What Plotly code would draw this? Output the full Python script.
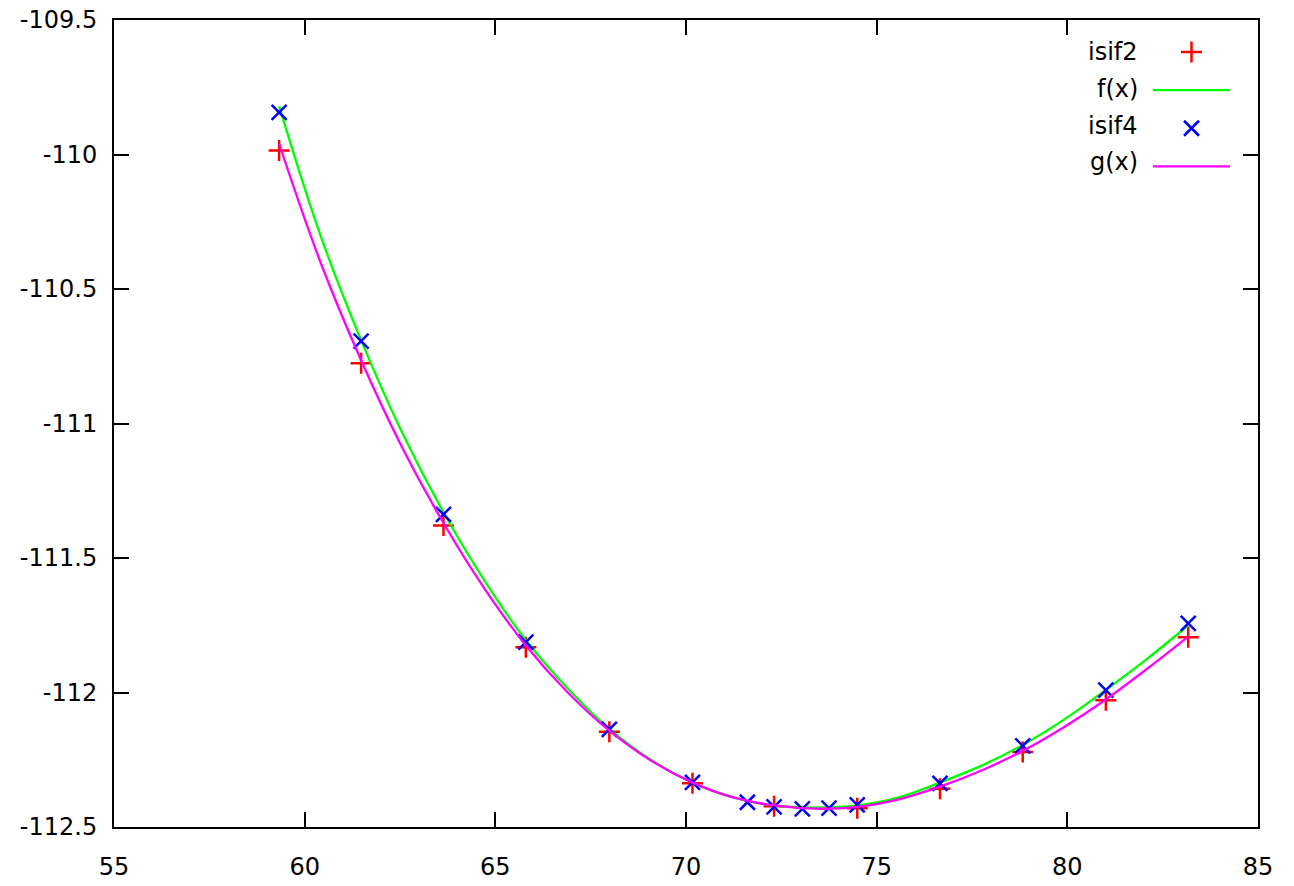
import plotly.graph_objects as go

# volume-like x values shared by both runs
vol = [59.33, 61.48, 63.64, 65.80, 67.99, 70.17, 72.31, 74.49, 76.66, 78.83, 81.01, 83.17]

# isif2 data (red +)
isif2_e = [-109.985, -110.776, -111.379, -111.832, -112.146, -112.337,
           -112.423, -112.430, -112.358, -112.221, -112.029, -111.795]

# isif4 data (blue x)
isif4_x = [59.33, 61.48, 63.64, 65.80, 67.99, 70.17, 71.61, 72.31,
           73.05, 73.75, 74.49, 76.66, 78.83, 81.01, 83.17]
isif4_e = [-109.843, -110.694, -111.338, -111.813, -112.137, -112.334,
           -112.408, -112.425, -112.433, -112.430, -112.418, -112.338,
           -112.198, -111.991, -111.743]

# fitted curves
fit_x = [59.33, 60.4, 61.48, 62.56, 63.64, 64.72, 65.80, 66.9, 67.99, 69.08,
         70.17, 71.24, 72.31, 73.4, 74.49, 75.58, 76.66, 77.75, 78.83, 79.92,
         81.01, 82.09, 83.17]
f_y = [-109.82, -110.295, -110.69, -111.035, -111.33, -111.585, -111.805,
       -111.985, -112.135, -112.25, -112.335, -112.39, -112.42, -112.428,
       -112.42, -112.39, -112.335, -112.272, -112.195, -112.1, -111.99,
       -111.875, -111.75]
g_y = [-109.96, -110.395, -110.765, -111.09, -111.37, -111.615, -111.825,
       -112.0, -112.142, -112.253, -112.335, -112.39, -112.42, -112.432,
       -112.425, -112.397, -112.35, -112.29, -112.217, -112.128, -112.026,
       -111.912, -111.792]

FONT = "DejaVu Sans"

fig = go.Figure()

fig.add_trace(go.Scatter(
    x=vol, y=isif2_e, mode="markers", name="isif2",
    marker=dict(symbol="cross-thin", size=15, line=dict(color="#ff0000", width=2.5))
))
fig.add_trace(go.Scatter(
    x=fit_x, y=f_y, mode="lines", name="f(x)",
    line=dict(color="#00ff00", width=2.3, shape="spline", smoothing=1)
))
fig.add_trace(go.Scatter(
    x=isif4_x, y=isif4_e, mode="markers", name="isif4",
    marker=dict(symbol="x-thin", size=15, line=dict(color="#0000ff", width=2.5))
))
fig.add_trace(go.Scatter(
    x=fit_x, y=g_y, mode="lines", name="g(x)",
    line=dict(color="#ff00ff", width=2.3, shape="spline", smoothing=1)
))

# legend labels sit left of the samples, gnuplot style
labels = ["isif2", "f(x)", "isif4", "g(x)"]
label_py = [52, 89, 126, 162]
for txt, py in zip(labels, label_py):
    fig.add_annotation(
        text=txt, xref="paper", yref="paper",
        x=(1140 - 114) / 1144, y=1 - (py - 20) / 807,
        xanchor="right", yanchor="middle", showarrow=False,
        font=dict(family=FONT, size=24, color="black")
    )

axis_common = dict(
    showgrid=False, zeroline=False, automargin=False,
    showline=True, linecolor="black", linewidth=2, mirror="ticks",
    ticks="inside", ticklen=15, tickwidth=2, tickcolor="black",
    tickfont=dict(family=FONT, size=24, color="black"),
    ticklabeloverflow="allow",
)

fig.update_layout(
    width=1294, height=886,
    paper_bgcolor="white", plot_bgcolor="white",
    margin=dict(l=114, r=36, t=20, b=59, autoexpand=False),
    xaxis=dict(range=[55, 85], tickvals=[55, 60, 65, 70, 75, 80, 85],
               ticklabelstandoff=17, **axis_common),
    yaxis=dict(range=[-112.5, -109.5],
               tickvals=[-112.5, -112, -111.5, -111, -110.5, -110, -109.5],
               ticktext=["-112.5", "-112", "-111.5", "-111", "-110.5", "-110", "-109.5"],
               ticklabelstandoff=10, **axis_common),
    showlegend=True,
    legend=dict(
        x=(1148 - 114) / 1144, y=1 - (28 - 20) / 807,
        xanchor="left", yanchor="top",
        bgcolor="rgba(0,0,0,0)", borderwidth=0,
        itemwidth=77, tracegroupgap=0,
        font=dict(family=FONT, size=27, color="rgba(0,0,0,0)"),
    ),
)

# drop the browser's default 8px body margin so the figure fills the window
fig.write_html("out.html", config={"displayModeBar": False},
               post_script="document.body.style.margin = '0';")
